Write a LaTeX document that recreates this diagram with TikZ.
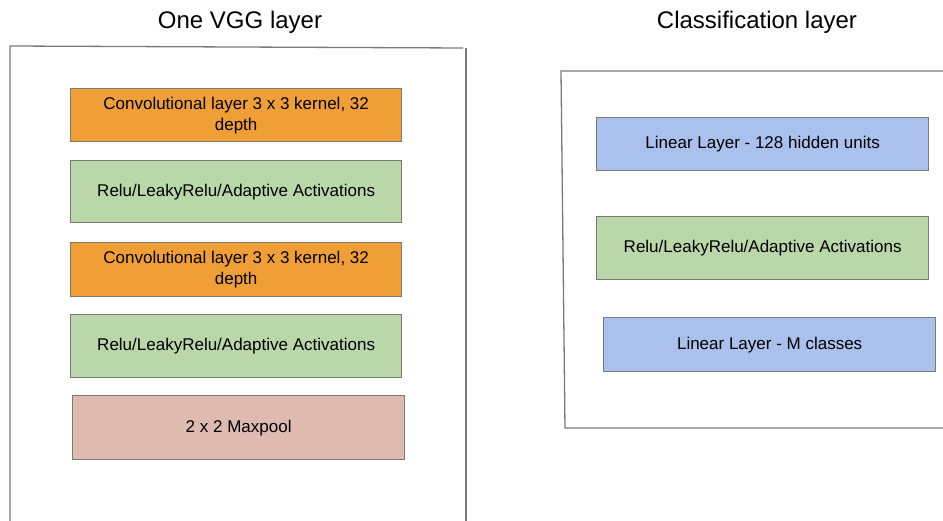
\documentclass[tikz,border=0pt]{standalone}
\usepackage{fontspec}
\setmainfont{Liberation Sans}
\definecolor{convc}{HTML}{F09F37}
\definecolor{reluc}{HTML}{B9D7A8}
\definecolor{poolc}{HTML}{DFBAB0}
\definecolor{linc}{HTML}{A9C1EC}
\definecolor{edgec}{HTML}{7A7A7A}
\begin{document}
\begin{tikzpicture}[x=1pt,y=-1pt,
  layerbox/.style={draw=edgec, line width=1.3pt, anchor=north west, inner sep=0pt, align=center, font=\fontsize{17}{21}\selectfont},
  frameline/.style={draw=edgec, line width=1.3pt},
  titletext/.style={font=\fontsize{24}{28}\selectfont}]
\useasboundingbox (0,0) rectangle (943,521);
% titles
\node[titletext] (t1) at (240,22) {One VGG layer};
\node[titletext] (t2) at (757,22) {Classification layer};
% frames
\draw[frameline] (10,530) -- (10,46) -- (463,48);
\draw[frameline] (466,48) -- (466,530);
\draw[frameline] (950,71) -- (561,71) -- (565,428) -- (950,428);
% left boxes
\node[layerbox, fill=convc, minimum width=331pt, minimum height=53pt] (c1) at (70,88) {Convolutional layer 3 x 3 kernel, 32\\depth};
\node[layerbox, fill=reluc, minimum width=331pt, minimum height=62pt] (r1) at (70,160) {Relu/LeakyRelu/Adaptive Activations};
\node[layerbox, fill=convc, minimum width=331pt, minimum height=54pt] (c2) at (70,242) {Convolutional layer 3 x 3 kernel, 32\\depth};
\node[layerbox, fill=reluc, minimum width=331pt, minimum height=63pt] (r2) at (70,314) {Relu/LeakyRelu/Adaptive Activations};
\node[layerbox, fill=poolc, minimum width=332pt, minimum height=64pt] (mp) at (72,395) {2 x 2 Maxpool};
% right boxes
\node[layerbox, fill=linc, minimum width=332pt, minimum height=53pt] (l1) at (596,117) {Linear Layer - 128 hidden units};
\node[layerbox, fill=reluc, minimum width=332pt, minimum height=63pt] (r3) at (596,216) {Relu/LeakyRelu/Adaptive Activations};
\node[layerbox, fill=linc, minimum width=332pt, minimum height=54pt] (l2) at (603,317) {Linear Layer - M classes};
\end{tikzpicture}
\end{document}
